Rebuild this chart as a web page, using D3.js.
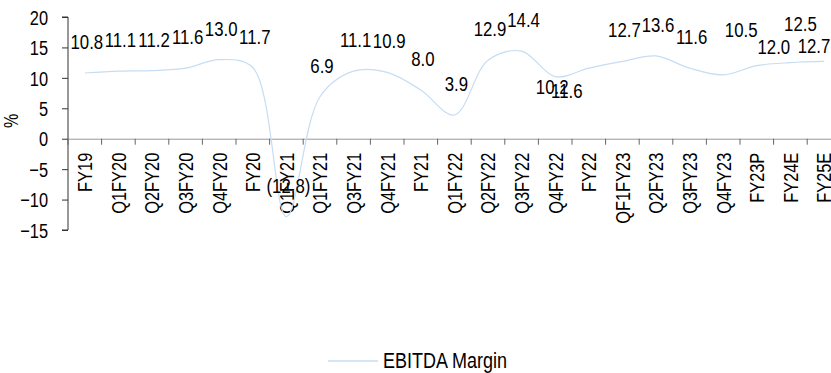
<!DOCTYPE html>
<html>
<head>
<meta charset="utf-8">
<script src="https://cdn.jsdelivr.net/npm/d3@7"></script>
<style>
    body { margin: 0; background: #fff; }
    svg { display: block; font-family: "Liberation Sans", Arial, sans-serif; }
</style>
</head>
<body>
<div id="container"></div>
<script>

var categories = ['FY19', 'Q1FY20', 'Q2FY20', 'Q3FY20', 'Q4FY20', 'FY20', 'Q1FY21', 'Q1FY21',
    'Q3FY21', 'Q4FY21', 'FY21', 'Q1FY22', 'Q2FY22', 'Q3FY22', 'Q4FY22', 'FY22', 'QF1FY23',
    'Q2FY23', 'Q3FY23', 'Q4FY23', 'FY23P', 'FY24E', 'FY25E'];

var ebitdaMargin = [10.8, 11.1, 11.2, 11.6, 13.0, 11.7, -12.8, 6.9, 11.1, 10.9, 8.0, 3.9,
    12.9, 14.4, 10.2, 11.6, 12.7, 13.6, 11.6, 10.5, 12.0, 12.5, 12.7];

var yTicks = [-15, -10, -5, 0, 5, 10, 15, 20];

var seriesName = 'EBITDA Margin';

// labels that were dragged off their default spot
var labelNudge = {14: [-5, 41], 15: [-24, 54], 19: [16, -14], 20: [15, 12], 21: [8, -8], 22: [-12, 16]};

var width = 831,
    height = 373,
    left = 68,
    band = 33.6,
    narrow = 0.8; // squeeze Liberation Sans to look like Arial Narrow

var svg = d3.select('#container').append('svg')
    .attr('width', width)
    .attr('height', height);

var x = d3.scaleBand()
    .domain(d3.range(categories.length))
    .range([left, left + band * categories.length]);

var y = d3.scaleLinear().domain([-15, 20]).range([230, 17]);

var lineColor = '#c6ddf3';

var squeeze = function(tx, ty, rot){
    return 'translate(' + tx + ',' + ty + ')' + (rot ? ' rotate(' + rot + ')' : '') + ' scale(' + narrow + ',1)';
};

/**
 * axis section
 * a) y-axis
 * b) x-axis
 */
var yAxis = d3.axisLeft(y).tickValues(yTicks).tickSize(6);

svg.append('g')
    .attr('class', 'axis axis--y')
    .attr('transform', 'translate(' + left + ',0)')
    .call(yAxis)
    .call(function(g){
        g.select('.domain').attr('stroke', '#333').attr('d', 'M-6,' + y(20) + 'H0V' + y(-15) + 'H-6');
        g.selectAll('.tick line').attr('stroke', '#333');
        g.selectAll('.tick text')
            .attr('font-size', 20.5)
            .attr('font-family', 'inherit')
            .attr('fill', '#000')
            .attr('x', 0)
            .attr('dy', '0.35em')
            .attr('transform', squeeze(-20, 0));
    });

var xAxis = d3.axisBottom(x).tickSize(0).tickFormat(function(i){ return categories[i]; });

var gx = svg.append('g')
    .attr('class', 'axis axis--x')
    .attr('transform', 'translate(0,' + y(0) + ')')
    .call(xAxis);

gx.select('.domain').attr('stroke', '#999');

gx.selectAll('.tick text')
    .attr('font-size', 20.5)
    .attr('font-family', 'inherit')
    .attr('fill', '#000')
    .attr('text-anchor', 'end')
    .attr('x', 0)
    .attr('y', 0)
    .attr('dy', '0.36em')
    .attr('transform', squeeze(0, 14, -90));

// tick marks sit on the band edges
gx.selectAll('line.edge')
    .data(d3.range(categories.length + 1))
    .enter().append('line')
    .attr('class', 'edge')
    .attr('x1', function(i){ return left + i * x.step(); })
    .attr('x2', function(i){ return left + i * x.step(); })
    .attr('y1', 0)
    .attr('y2', 6)
    .attr('stroke', '#666');

svg.append('text')
    .attr('transform', squeeze(18, 121, -90))
    .attr('text-anchor', 'middle')
    .attr('font-size', 20)
    .text('%');

/**
 * the smoothed line
 */
var line = d3.line()
    .x(function(d, i){ return x(i) + x.bandwidth() / 2; })
    .y(function(d){ return y(d); })
    .curve(d3.curveCatmullRom.alpha(0.5));

svg.append('path')
    .datum(ebitdaMargin)
    .attr('fill', 'none')
    .attr('stroke', lineColor)
    .attr('stroke-width', 1.2)
    .attr('d', line);

/**
 * data labels
 */
var fmt = d3.format('.1f');

svg.selectAll('text.value')
    .data(ebitdaMargin)
    .enter().append('text')
    .attr('class', 'value')
    .attr('text-anchor', 'middle')
    .attr('font-size', 21)
    .attr('transform', function(d, i){
        var n = labelNudge[i] || [0, 0];
        return squeeze(x(i) + x.bandwidth() / 2 + 2 + n[0], y(d) - 24 + n[1]);
    })
    .text(function(d){ return d < 0 ? '(' + fmt(-d) + ')' : fmt(d); });

/**
 * legend
 */
var key = svg.append('g').attr('transform', 'translate(328,361)');

key.append('line')
    .attr('x1', 0).attr('x2', 50)
    .attr('stroke', lineColor)
    .attr('stroke-width', 1.5);

key.append('text')
    .attr('transform', squeeze(55, 7))
    .attr('font-size', 22.5)
    .text(seriesName);

</script>
</body>
</html>
